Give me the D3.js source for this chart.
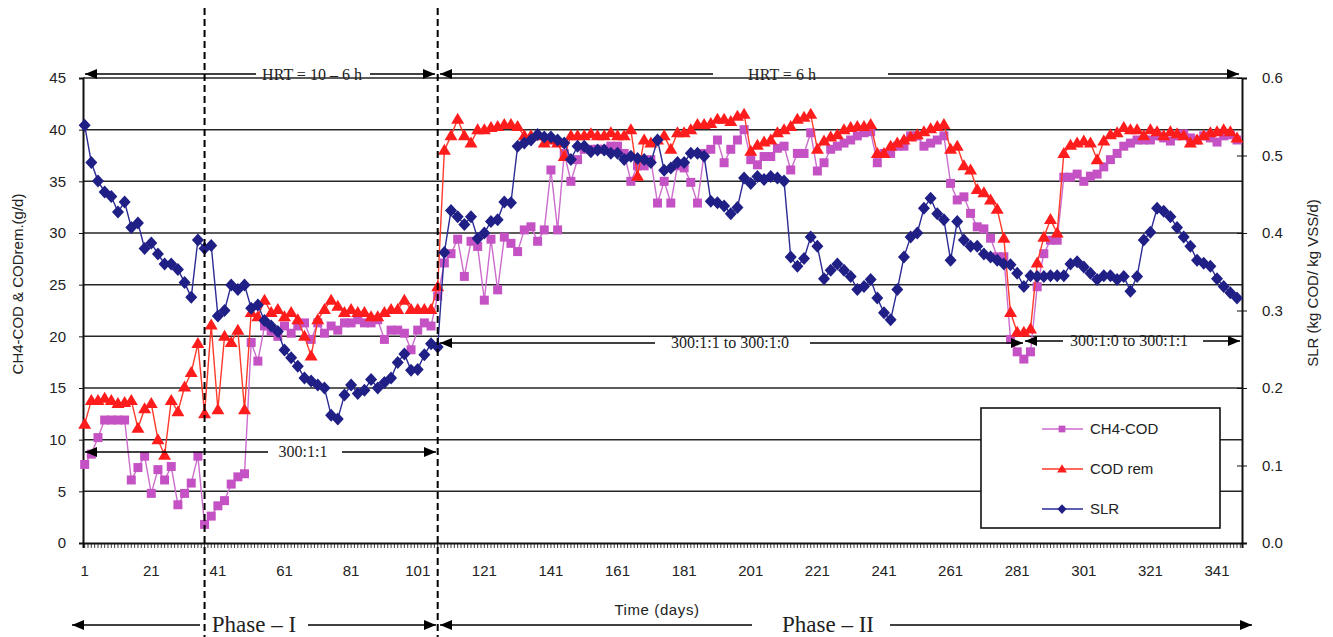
<!DOCTYPE html>
<html>
<head>
<meta charset="utf-8">
<script src="https://cdn.jsdelivr.net/npm/d3@7"></script>
<style>
body { margin: 0; background: #fff; }
text { font-family: Arial, "Liberation Sans", sans-serif; }
.serif { font-family: "Times New Roman", "Liberation Serif", serif; }
</style>
</head>
<body>
<svg id="chart" width="1333" height="637"></svg>
<script>
// sampled days (every second day of the run)
var days = [1,3,5,7,9,11,13,15,17,19,21,23,25,27,29,31,33,35,37,39,
	41,43,45,47,49,51,53,55,57,59,61,63,65,67,69,71,73,75,77,79,
	81,83,85,87,89,91,93,95,97,99,101,103,105,107,109,111,113,115,117,119,
	121,123,125,127,129,131,133,135,137,139,141,143,145,147,149,151,153,155,157,159,
	161,163,165,167,169,171,173,175,177,179,181,183,185,187,189,191,193,195,197,199,
	201,203,205,207,209,211,213,215,217,219,221,223,225,227,229,231,233,235,237,239,
	241,243,245,247,249,251,253,255,257,259,261,263,265,267,269,271,273,275,277,279,
	281,283,285,287,289,291,293,295,297,299,301,303,305,307,309,311,313,315,317,319,
	321,323,325,327,329,331,333,335,337,339,341,343,345,347];

// CH4-COD (g/d)
var ch4Cod = [7.6,8.6,10.2,11.9,11.9,11.9,11.9,6.1,7.3,8.4,4.8,7.1,6.1,7.4,3.7,4.8,5.8,8.4,1.8,2.6,
	3.6,4.1,5.7,6.4,6.7,19.4,17.6,21.0,20.5,20.0,21.0,20.3,21.0,21.3,19.7,21.3,20.3,21.0,20.6,21.3,
	21.3,21.6,21.3,21.3,21.6,19.7,20.6,20.6,20.3,18.7,20.6,21.3,21.0,23.9,27.1,28.0,29.4,25.8,29.2,28.7,
	23.5,29.4,24.5,29.6,29.0,28.2,30.3,30.6,29.2,30.3,36.1,30.3,37.7,35.0,37.1,38.1,38.1,38.1,38.1,38.4,
	38.4,37.7,35.0,36.5,36.5,37.1,32.9,35.0,32.9,36.5,36.3,34.9,32.9,37.7,38.1,39.0,36.8,38.1,39.0,40.0,
	37.1,36.6,37.4,37.4,38.2,38.4,36.1,37.7,37.7,39.7,36.0,36.8,38.1,38.4,38.7,39.0,39.4,39.7,39.8,36.8,
	37.7,37.7,38.4,38.4,39.4,39.4,38.4,38.7,39.0,39.4,34.8,33.2,33.5,31.9,30.6,30.4,29.5,27.7,27.7,19.7,
	18.5,17.8,18.5,24.8,28.0,29.3,29.3,35.4,35.4,35.7,35.0,35.5,35.7,36.4,37.1,37.7,38.4,38.7,39.0,39.0,
	39.0,39.4,39.2,38.9,39.4,39.6,39.2,39.0,39.4,39.2,38.8,39.4,39.5,39.0];

// COD removed (g/d)
var codRem = [11.5,13.8,13.8,14.0,13.8,13.5,13.6,13.8,11.1,13.0,13.5,10.0,8.5,13.8,12.7,15.1,16.5,19.3,12.5,21.1,
	12.9,20.0,19.4,20.6,12.9,22.3,21.9,23.5,22.3,22.6,21.9,22.3,21.6,20.0,18.1,21.6,22.6,23.5,22.9,22.3,
	22.6,22.3,22.3,21.9,21.9,22.3,22.6,22.6,23.5,22.6,22.6,22.6,22.6,24.8,38.0,39.4,41.0,39.4,38.7,40.0,
	40.0,40.2,40.3,40.5,40.5,40.3,39.4,39.4,39.4,38.7,39.0,38.7,37.4,39.4,39.4,39.4,39.6,39.4,39.4,39.7,
	39.4,39.4,40.0,35.5,39.0,38.7,39.0,39.4,38.1,39.7,39.7,40.0,40.5,40.5,40.6,41.0,41.0,40.8,41.3,41.5,
	37.9,38.5,38.8,39.0,39.7,40.0,40.3,41.0,41.2,41.5,38.1,38.9,39.3,39.5,40.0,40.2,40.3,40.3,40.5,37.7,
	37.7,38.4,38.7,39.0,39.3,39.5,39.8,40.1,40.3,40.5,38.1,38.4,36.5,36.1,34.2,33.9,33.2,32.3,29.5,22.3,
	20.4,20.4,20.7,27.1,29.6,31.3,30.0,37.7,38.5,38.7,38.9,38.7,37.1,38.9,39.5,39.7,40.2,40.0,40.0,39.4,
	40.0,39.8,39.4,39.8,39.6,39.4,38.7,39.0,39.4,39.7,39.8,40.0,39.8,39.2];

// SLR (kg COD/kg VSS/d), right axis
var slr = [0.539,0.491,0.467,0.453,0.447,0.427,0.440,0.407,0.413,0.380,0.387,0.373,0.360,0.360,0.353,0.336,0.317,0.391,0.380,0.384,
	0.293,0.300,0.333,0.327,0.333,0.303,0.307,0.287,0.280,0.273,0.249,0.239,0.228,0.213,0.209,0.204,0.200,0.165,0.160,0.191,
	0.204,0.193,0.197,0.211,0.200,0.207,0.213,0.233,0.244,0.223,0.224,0.243,0.257,0.253,0.375,0.429,0.421,0.411,0.421,0.393,
	0.400,0.415,0.417,0.440,0.439,0.512,0.516,0.520,0.527,0.524,0.524,0.520,0.516,0.495,0.512,0.512,0.505,0.507,0.507,0.503,
	0.503,0.495,0.499,0.496,0.495,0.491,0.520,0.481,0.484,0.491,0.491,0.503,0.503,0.499,0.441,0.439,0.435,0.425,0.433,0.471,
	0.464,0.473,0.469,0.473,0.471,0.467,0.369,0.357,0.367,0.395,0.383,0.341,0.352,0.360,0.352,0.344,0.327,0.331,0.340,0.316,
	0.297,0.288,0.327,0.369,0.395,0.400,0.432,0.445,0.425,0.417,0.365,0.415,0.391,0.383,0.383,0.373,0.369,0.365,0.360,0.359,
	0.348,0.331,0.345,0.344,0.344,0.345,0.345,0.345,0.360,0.363,0.356,0.348,0.340,0.345,0.345,0.340,0.344,0.325,0.344,0.391,
	0.401,0.432,0.428,0.421,0.407,0.395,0.383,0.365,0.361,0.357,0.341,0.331,0.323,0.316];

var leftTicks = [0,5,10,15,20,25,30,35,40,45];
var rightTicks = [0,0.1,0.2,0.3,0.4,0.5,0.6];
var dayLabels = [1,21,41,61,81,101,121,141,161,181,201,221,241,261,281,301,321,341];
var phaseDays = [37,107];
var seriesNames = ["CH4-COD","COD rem","SLR"];

var svg = d3.select("#chart");

var x = d3.scaleBand().domain(d3.range(1, 349)).range([83, 1242]);
var yL = d3.scaleLinear().domain([0, 45]).range([543, 78]);
var yR = d3.scaleLinear().domain([0, 0.6]).range([543, 78]);
function cx(d) { return x(d) + x.bandwidth() / 2; }

// gridlines
svg.append("g")
	.selectAll("line")
	.data(leftTicks.slice(1))
	.enter().append("line")
	.attr("x1", 83).attr("x2", 1242)
	.attr("y1", function(d) { return yL(d); })
	.attr("y2", function(d) { return yL(d); })
	.attr("stroke", "#262626")
	.attr("stroke-width", 1.5);

// axes
var gLeft = svg.append("g")
	.attr("transform", "translate(83,0)")
	.call(d3.axisLeft(yL).tickValues(leftTicks).tickSize(4).tickPadding(13));
gLeft.selectAll("text").style("font-size", "15px").attr("fill", "#222");

var gRight = svg.append("g")
	.attr("transform", "translate(1242,0)")
	.call(d3.axisRight(yR).tickValues(rightTicks).tickSize(5).tickPadding(15).tickFormat(d3.format(".1f")));
gRight.selectAll(".tick line").attr("x1", -5);
gRight.selectAll("text").style("font-size", "15px").attr("fill", "#222");

var gBottom = svg.append("g")
	.attr("transform", "translate(0,543)")
	.call(d3.axisBottom(x).tickSize(5).tickPadding(17)
		.tickFormat(function(d) { return dayLabels.indexOf(d) >= 0 ? d : ""; }));
gBottom.selectAll("text").style("font-size", "15px").attr("fill", "#222");
gBottom.selectAll(".tick line").attr("stroke-width", 0.8);

[gLeft, gRight, gBottom].forEach(function(g) {
	g.select(".domain").attr("stroke", "#111").attr("stroke-width", 2);
	g.selectAll(".tick line").attr("stroke", "#111");
});

// series
var trianglePath = "M0,-6.5L6.5,4.5L-6.5,4.5Z";
var diamondPath = "M0,-6.5L6,0L0,6.5L-6,0Z";
var squarePath = d3.symbol(d3.symbolSquare, 81)();

var series = [
	{name: seriesNames[0], values: ch4Cod, y: yL, color: "#c552c5", line: "#cc6ccc", shape: squarePath},
	{name: seriesNames[1], values: codRem, y: yL, color: "#ff1c1c", line: "#ff3a2a", shape: trianglePath},
	{name: seriesNames[2], values: slr, y: yR, color: "#1f1f86", line: "#2b2b96", shape: diamondPath}
];

series.forEach(function(s) {
	var pts = days.map(function(d, i) { return [cx(d), s.y(s.values[i])]; });
	svg.append("path")
		.attr("d", d3.line()(pts))
		.attr("fill", "none")
		.attr("stroke", s.line)
		.attr("stroke-width", 1.4);
	svg.append("g")
		.selectAll("path")
		.data(pts)
		.enter().append("path")
		.attr("d", s.shape)
		.attr("transform", function(p) { return "translate(" + p[0] + "," + p[1] + ")"; })
		.attr("fill", s.color);
});

// phase dashed lines
svg.append("g")
	.selectAll("line")
	.data(phaseDays)
	.enter().append("line")
	.attr("x1", function(d) { return cx(d); })
	.attr("x2", function(d) { return cx(d); })
	.attr("y1", 8).attr("y2", 637)
	.attr("stroke", "#000")
	.attr("stroke-width", 2)
	.attr("stroke-dasharray", "7,4");

// annotation arrows
function arrowHead(px, py, dir)
{
	// dir = 1 points right, -1 points left
	svg.append("path")
		.attr("d", "M" + px + "," + py + "L" + (px - dir * 12) + "," + (py - 5) + "L" + (px - dir * 12) + "," + (py + 5) + "Z")
		.attr("fill", "#000");
}

function annotate(a)
{
	svg.append("line").attr("x1", a.x1).attr("x2", a.g1).attr("y1", a.y).attr("y2", a.y)
		.attr("stroke", "#000").attr("stroke-width", 1.5);
	svg.append("line").attr("x1", a.g2).attr("x2", a.x2).attr("y1", a.y).attr("y2", a.y)
		.attr("stroke", "#000").attr("stroke-width", 1.5);
	arrowHead(a.x1, a.y, -1);
	arrowHead(a.x2, a.y, 1);
	svg.append("text")
		.attr("class", "serif")
		.attr("x", a.tx).attr("y", a.ty)
		.attr("text-anchor", "middle")
		.style("font-size", a.size + "px")
		.attr("fill", "#222")
		.text(a.label);
}

var notes = [
	{label: "HRT = 10 \u2013 6 h", x1: 85, x2: 435, y: 74, g1: 256, g2: 370, tx: 312, ty: 80, size: 16},
	{label: "HRT = 6 h", x1: 440, x2: 1239, y: 74, g1: 713, g2: 888, tx: 782, ty: 80, size: 16},
	{label: "300:1:1", x1: 85, x2: 436, y: 452, g1: 268, g2: 342, tx: 303, ty: 457, size: 16},
	{label: "300:1:1 to 300:1:0", x1: 440, x2: 1023, y: 343, g1: 655, g2: 810, tx: 730, ty: 348, size: 16},
	{label: "300:1:0 to 300:1:1", x1: 1025, x2: 1240, y: 341, g1: 1063, g2: 1203, tx: 1129, ty: 346, size: 16},
	{label: "Phase \u2013 I", x1: 72, x2: 436, y: 625, g1: 200, g2: 308, tx: 254, ty: 632, size: 23},
	{label: "Phase \u2013 II", x1: 440, x2: 1252, y: 625, g1: 752, g2: 890, tx: 828, ty: 632, size: 23}
];
notes.forEach(annotate);

// axis titles
svg.append("text")
	.attr("transform", "translate(23,284) rotate(-90)")
	.attr("text-anchor", "middle")
	.style("font-size", "15px")
	.attr("fill", "#222")
	.text("CH4-COD & CODrem.(g/d)");

svg.append("text")
	.attr("transform", "translate(1318,283) rotate(-90)")
	.attr("text-anchor", "middle")
	.style("font-size", "15px")
	.attr("fill", "#222")
	.text("SLR (kg COD/ kg VSS/d)");

svg.append("text")
	.attr("x", 657).attr("y", 615)
	.attr("text-anchor", "middle")
	.style("font-size", "15px")
	.style("letter-spacing", "0.6px")
	.attr("fill", "#222")
	.text("Time (days)");

// legend
var legend = svg.append("g");
legend.append("rect")
	.attr("x", 981).attr("y", 408).attr("width", 239).attr("height", 120)
	.attr("fill", "#fff").attr("stroke", "#111").attr("stroke-width", 1.6);

var legendRows = legend.selectAll("g.row")
	.data(series)
	.enter().append("g")
	.attr("class", "row")
	.attr("transform", function(d, i) { return "translate(0," + (429 + i * 40) + ")"; });

legendRows.append("line")
	.attr("x1", 1042).attr("x2", 1083)
	.attr("stroke", function(d) { return d.line; })
	.attr("stroke-width", 1.4);
legendRows.append("path")
	.attr("d", function(d) { return d.shape; })
	.attr("transform", "translate(1062,0) scale(0.75)")
	.attr("fill", function(d) { return d.color; });
legendRows.append("text")
	.attr("x", 1090).attr("y", 5)
	.style("font-size", "15px")
	.attr("fill", "#222")
	.text(function(d) { return d.name; });
</script>
</body>
</html>
